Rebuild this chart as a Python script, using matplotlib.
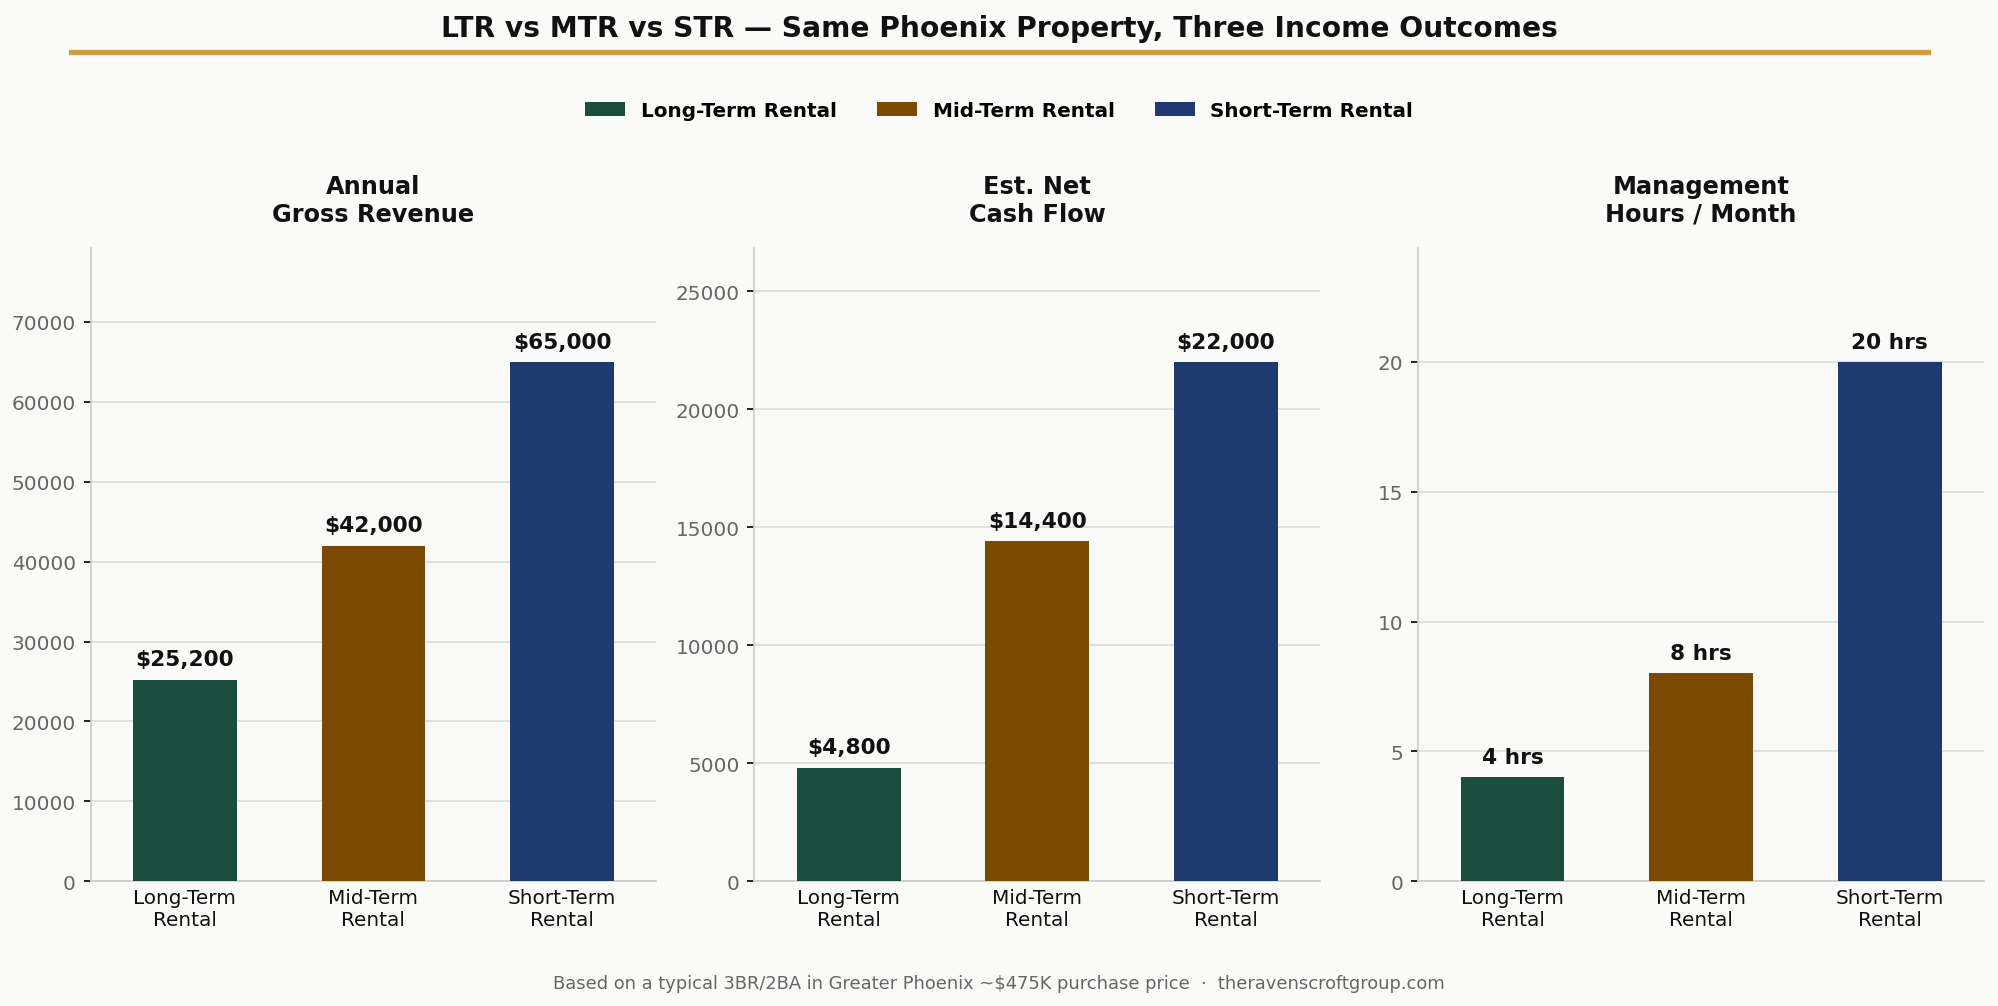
import matplotlib.pyplot as plt
from matplotlib.patches import Patch

categories = ["Long-Term\nRental", "Mid-Term\nRental", "Short-Term\nRental"]
legend_names = ["Long-Term Rental", "Mid-Term Rental", "Short-Term Rental"]
panel_titles = ["Annual\nGross Revenue", "Est. Net\nCash Flow", "Management\nHours / Month"]

gross_revenue = [25200, 42000, 65000]
net_cash_flow = [4800, 14400, 22000]
mgmt_hours = [4, 8, 20]

colors = ["#1B4D3E", "#7B4A00", "#1F3A6E"]
bg = "#FAFAF8"

fig = plt.figure(figsize=(13.32, 6.713), dpi=150, facecolor=bg)

panels = [
    (gross_revenue, lambda v: f"${v:,.0f}"),
    (net_cash_flow, lambda v: f"${v:,.0f}"),
    (mgmt_hours, lambda v: f"{v} hrs"),
]
lefts = [0.0453, 0.3776, 0.7098]

for i, (vals, fmt) in enumerate(panels):
    ax = fig.add_axes([lefts[i], 0.124, 0.2832, 0.629])
    ax.set_facecolor(bg)
    x = range(len(categories))
    ax.bar(x, vals, color=colors, width=0.55, zorder=3)
    top = max(vals)
    ax.set_ylim(0, top * 1.22)
    ax.set_xlim(-0.5, 2.5)
    for xi, v in zip(x, vals):
        ax.text(xi, v + top * 0.02, fmt(v), ha="center", va="bottom",
                fontsize=10.4, fontweight="bold", color="#111111")
    ax.set_xticks(list(x))
    ax.set_xticklabels(categories, fontsize=9.6, color="#111111")
    ax.tick_params(axis="y", labelsize=9.6, labelcolor="#666666")
    ax.tick_params(axis="x", length=0)
    ax.set_title(panel_titles[i], fontsize=11.5, fontweight="bold", color="#111111", pad=13)
    ax.grid(axis="y", color="#DDDDDA", linewidth=0.8, zorder=0)
    ax.spines["top"].set_visible(False)
    ax.spines["right"].set_visible(False)
    ax.spines["left"].set_color("#CCCCCC")
    ax.spines["bottom"].set_color("#CCCCCC")

fig.text(0.5, 0.971, "LTR vs MTR vs STR \u2014 Same Phoenix Property, Three Income Outcomes",
         ha="center", va="center", fontsize=13.5, fontweight="bold", color="#111111")
fig.add_artist(plt.Line2D([0.0357, 0.965], [0.947, 0.947], color="#D09C3E", linewidth=2.5,
                          transform=fig.transFigure))

handles = [Patch(facecolor=c, label=n) for c, n in zip(colors, legend_names)]
leg = fig.legend(handles=handles, loc="center", bbox_to_anchor=(0.5, 0.889), ncol=3,
                 frameon=False, prop={"size": 9.6, "weight": "bold"}, columnspacing=2.0)

fig.text(0.5, 0.023, "Based on a typical 3BR/2BA in Greater Phoenix ~$475K purchase price  \u00b7  theravenscroftgroup.com",
         ha="center", va="center", fontsize=8.6, color="#666666")

fig.savefig("out.png", dpi=150, facecolor=bg)
